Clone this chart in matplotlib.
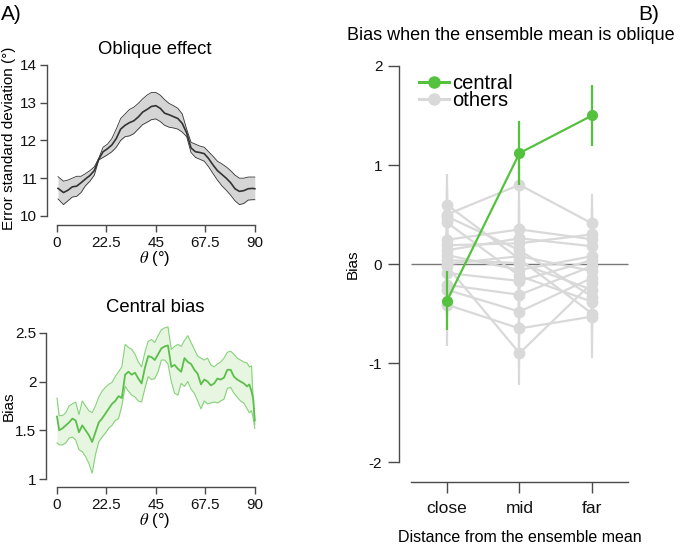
import matplotlib
matplotlib.use('Agg')
import matplotlib.pyplot as plt
from matplotlib.lines import Line2D

plt.rcParams['font.family'] = ['Liberation Sans', 'DejaVu Sans']
plt.rcParams['mathtext.fontset'] = 'stix'

# ---------------- Data: Oblique effect ----------------
theta_sd = [0.5, 3, 5, 7, 9, 11, 13, 15, 17, 19, 21, 23, 25, 27, 29, 31, 33, 35, 37, 39,
            41, 43, 45, 47, 49, 51, 53, 55, 57, 59, 61, 63, 65, 67, 69, 71, 73, 75, 77, 79,
            81, 83, 85, 87, 89, 90]
sd_mean = [10.73, 10.62, 10.68, 10.77, 10.79, 10.88, 10.98, 11.07, 11.2, 11.5, 11.7, 11.78,
           11.88, 12.05, 12.3, 12.4, 12.47, 12.52, 12.62, 12.75, 12.82, 12.9, 12.92, 12.85,
           12.72, 12.68, 12.63, 12.58, 12.45, 12.2, 11.8, 11.7, 11.68, 11.65, 11.52, 11.35,
           11.2, 11.1, 11.0, 10.88, 10.72, 10.65, 10.67, 10.72, 10.73, 10.72]
sd_upper = [11.04, 10.92, 10.95, 11.0, 11.05, 11.05, 11.12, 11.2, 11.3, 11.52, 11.82, 11.9,
            12.05, 12.3, 12.58, 12.7, 12.82, 12.88, 12.98, 13.1, 13.2, 13.27, 13.27, 13.2,
            13.08, 12.98, 12.92, 12.85, 12.7, 12.3, 11.95, 11.9, 11.85, 11.82, 11.7, 11.58,
            11.45, 11.38, 11.3, 11.2, 11.08, 11.0, 11.0, 11.03, 11.03, 11.03]
sd_lower = [10.45, 10.3, 10.4, 10.5, 10.52, 10.62, 10.8, 10.92, 11.08, 11.48, 11.55, 11.62,
            11.7, 11.82, 12.0, 12.1, 12.12, 12.18, 12.3, 12.42, 12.48, 12.55, 12.57, 12.5,
            12.4, 12.35, 12.33, 12.3, 12.22, 12.1, 11.68, 11.55, 11.5, 11.45, 11.3, 11.12,
            10.95, 10.8, 10.68, 10.55, 10.4, 10.3, 10.33, 10.42, 10.43, 10.43]

# ---------------- Data: Central bias ----------------
theta_cb = [0, 1, 2.5, 4, 5.5, 7, 8.5, 10, 11.5, 13, 14.5, 16, 17.5, 19, 20.5, 22, 23.5, 25,
            26.5, 28, 29.5, 31, 32.5, 34, 35.5, 37, 38.5, 40, 41.5, 43, 44.5, 46, 47.5, 49,
            50.5, 52, 53.5, 55, 56.5, 58, 59.5, 61, 62.5, 64, 65.5, 67, 68.5, 70, 71.5, 73,
            74.5, 76, 77.5, 79, 80.5, 82, 83.5, 85, 86.5, 87.5, 88.5, 89.3, 90]
cb_mean = [1.64, 1.50, 1.52, 1.55, 1.58, 1.62, 1.60, 1.48, 1.55, 1.50, 1.45, 1.38, 1.48, 1.58,
           1.62, 1.67, 1.72, 1.77, 1.80, 1.85, 1.83, 2.07, 2.10, 2.07, 2.09, 2.03, 1.98, 2.14,
           2.26, 2.25, 2.22, 2.28, 2.34, 2.36, 2.37, 2.15, 2.17, 2.13, 2.10, 2.24, 2.20, 2.18,
           2.12, 2.08, 1.97, 2.02, 2.00, 1.96, 1.98, 2.03, 2.02, 2.04, 2.12, 2.12, 2.05, 2.02,
           2.00, 1.98, 1.95, 1.97, 1.90, 1.82, 1.60]
cb_upper = [1.83, 1.65, 1.65, 1.68, 1.75, 1.77, 1.79, 1.66, 1.80, 1.75, 1.70, 1.68, 1.75, 1.84,
            1.90, 1.94, 1.97, 1.99, 2.05, 2.10, 2.15, 2.38, 2.35, 2.33, 2.28, 2.20, 2.15, 2.30,
            2.41, 2.43, 2.40, 2.47, 2.53, 2.55, 2.56, 2.33, 2.36, 2.38, 2.36, 2.42, 2.47, 2.40,
            2.33, 2.26, 2.24, 2.22, 2.24, 2.17, 2.15, 2.18, 2.20, 2.24, 2.30, 2.31, 2.28, 2.24,
            2.22, 2.20, 2.19, 2.15, 2.16, 1.80, 1.56]
cb_lower = [1.37, 1.35, 1.35, 1.37, 1.42, 1.43, 1.40, 1.30, 1.28, 1.23, 1.16, 1.06, 1.25, 1.38,
            1.43, 1.47, 1.52, 1.55, 1.60, 1.62, 1.75, 1.95, 1.90, 1.86, 1.84, 1.80, 1.79, 1.93,
            2.05, 2.02, 2.03, 2.10, 2.22, 2.22, 2.18, 2.00, 1.88, 1.86, 1.98, 1.95, 2.00, 1.92,
            1.88, 1.80, 1.72, 1.80, 1.77, 1.78, 1.79, 1.78, 1.80, 1.82, 1.93, 1.94, 1.88, 1.84,
            1.80, 1.78, 1.72, 1.68, 1.70, 1.62, 1.52]

# ---------------- Data: Panel B ----------------
distance_labels = ['close', 'mid', 'far']
central_bias = [-0.37, 1.12, 1.50]
central_err = [0.30, 0.32, 0.31]
others_close = [0.50, 0.60, 0.42, 0.48, 0.245, 0.19, 0.14, 0.09, 0.04, -0.02, -0.09, -0.21, -0.26, -0.41, 0.00]
others_mid = [0.80, 0.05, -0.12, 0.14, 0.35, 0.21, 0.26, -0.06, 0.01, -0.90, -0.17, -0.31, -0.48, -0.65, 0.08]
others_far = [0.41, -0.50, -0.38, -0.33, 0.25, 0.30, 0.18, 0.08, -0.26, -0.19, 0.04, -0.02, -0.14, -0.53, -0.07]
others_err = [0.30, 0.31, 0.30, 0.28, 0.30, 0.28, 0.30, 0.28, 0.30, 0.32, 0.28, 0.30, 0.28, 0.42, 0.30]

spine_col = '#4a4a4a'
green = '#55c23f'
gray = '#d9d9d9'

fig = plt.figure(figsize=(6.85, 5.46), dpi=100)
W, H = 685.0, 546.0


def style(ax, tlen=5, fs=11, xpad=3, ypad=2):
    for s in ['top', 'right']:
        ax.spines[s].set_visible(False)
    for s in ['left', 'bottom']:
        ax.spines[s].set_color(spine_col)
        ax.spines[s].set_linewidth(1.0)
    ax.tick_params(axis='both', colors=spine_col, labelcolor='#111111', length=tlen,
                   width=1.0, labelsize=fs)
    ax.tick_params(axis='x', pad=xpad)
    ax.tick_params(axis='y', pad=ypad)


# ---- Panel A top: Oblique effect ----
ax1 = fig.add_axes([47 / W, 1 - 225 / H, 210 / W, 162 / H])
ax1.fill_between(theta_sd, sd_lower, sd_upper, color='#d5d5d5', lw=0)
ax1.plot(theta_sd, sd_upper, color='#333333', lw=0.6)
ax1.plot(theta_sd, sd_lower, color='#333333', lw=0.6)
ax1.plot(theta_sd, sd_mean, color='#333333', lw=1.2)
ax1.set_xlim(-4.5, 91)
ax1.set_ylim(9.76, 14.05)
ax1.set_xticks([0, 22.5, 45, 67.5, 90])
ax1.set_xticklabels(['0', '22.5', '45', '67.5', '90'])
ax1.set_yticks([10, 11, 12, 13, 14])
style(ax1)
ax1.spines['left'].set_bounds(10, 14)
ax1.spines['bottom'].set_bounds(0, 90)
ax1.set_xlabel(r'$\theta$ (°)', fontsize=12)
ax1.xaxis.set_label_coords(155 / W, 1 - 249 / H, transform=fig.transFigure)
ax1.set_ylabel('Error standard deviation (°)', fontsize=11)
ax1.yaxis.set_label_coords(16 / W, 1 - 138 / H, transform=fig.transFigure)
fig.text(154.5 / W, 1 - 50 / H, 'Oblique effect', fontsize=13.3, ha='center', va='center')

# ---- Panel A bottom: Central bias ----
ax2 = fig.add_axes([46 / W, 1 - 487 / H, 211 / W, 164 / H])
ax2.fill_between(theta_cb, cb_lower, cb_upper, color='#e6f6e1', lw=0)
ax2.plot(theta_cb, cb_upper, color='#86d27a', lw=0.8)
ax2.plot(theta_cb, cb_lower, color='#86d27a', lw=0.8)
ax2.plot(theta_cb, cb_mean, color='#5bbf4a', lw=1.3)
ax2.set_xlim(-5, 91)
ax2.set_ylim(0.918, 2.6)
ax2.set_xticks([0, 22.5, 45, 67.5, 90])
ax2.set_xticklabels(['0', '22.5', '45', '67.5', '90'])
ax2.set_yticks([1, 1.5, 2, 2.5])
ax2.set_yticklabels(['1', '1.5', '2', '2.5'])
style(ax2)
ax2.spines['left'].set_bounds(1, 2.5)
ax2.spines['bottom'].set_bounds(0, 90)
ax2.set_xlabel(r'$\theta$ (°)', fontsize=12)
ax2.xaxis.set_label_coords(155 / W, 1 - 511 / H, transform=fig.transFigure)
ax2.set_ylabel('Bias', fontsize=11)
ax2.yaxis.set_label_coords(16 / W, 1 - 406 / H, transform=fig.transFigure)
fig.text(155 / W, 1 - 307 / H, 'Central bias', fontsize=13.3, ha='center', va='center')

# ---- Panel B ----
ax3 = fig.add_axes([399 / W, 1 - 482 / H, 233 / W, 421 / H])
xpos = [1, 2, 3]
ax3.hlines(0, 0.5, 3.5, color='#777777', lw=1.0, zorder=1)
for c, m, f, e in zip(others_close, others_mid, others_far, others_err):
    vals = [c, m, f]
    ax3.errorbar(xpos, vals, yerr=[e, e, e], color=gray, lw=1.6, elinewidth=1.6,
                 marker='o', markersize=7.5, capsize=0, zorder=2)
ax3.errorbar(xpos, central_bias, yerr=central_err, color=green, lw=1.6, elinewidth=1.6,
             marker='o', markersize=7, capsize=0, zorder=3)
ax3.set_xlim(0.34, 3.55)
ax3.set_ylim(-2.2, 2.05)
ax3.set_xticks(xpos)
ax3.set_xticklabels(distance_labels)
ax3.set_yticks([-2, -1, 0, 1, 2])
ax3.set_yticklabels(['-2', '-1', '0', '1', '2'])
style(ax3, tlen=8, fs=11, xpad=6, ypad=4)
ax3.tick_params(axis='x', labelsize=12.5)
ax3.spines['left'].set_bounds(-2, 2)
ax3.spines['bottom'].set_bounds(0.5, 3.5)
ax3.set_xlabel('Distance from the ensemble mean', fontsize=11.5)
ax3.xaxis.set_label_coords(520 / W, 1 - 530 / H, transform=fig.transFigure)
ax3.set_ylabel('Bias', fontsize=11)
ax3.yaxis.set_label_coords(360 / W, 1 - 264 / H, transform=fig.transFigure)

handles = [Line2D([], [], color=green, lw=2.2, marker='o', markersize=8),
           Line2D([], [], color=gray, lw=2.2, marker='o', markersize=8)]
ax3.legend(handles, ['central', 'others'], loc='upper left',
           bbox_to_anchor=(419 / W, 1 - 74 / H), bbox_transform=fig.transFigure,
           frameon=False, fontsize=14.5, handlelength=1.5, handletextpad=0.15,
           labelspacing=-0.08, borderpad=0, borderaxespad=0)

fig.text(511 / W, 1 - 35 / H, 'Bias when the ensemble mean is oblique', fontsize=13,
         ha='center', va='center')
fig.text(1 / W, 1 - 14 / H, 'A)', fontsize=15, ha='left', va='center')
fig.text(638 / W, 1 - 14 / H, 'B)', fontsize=15, ha='left', va='center')

fig.savefig('out.png', dpi=100)
